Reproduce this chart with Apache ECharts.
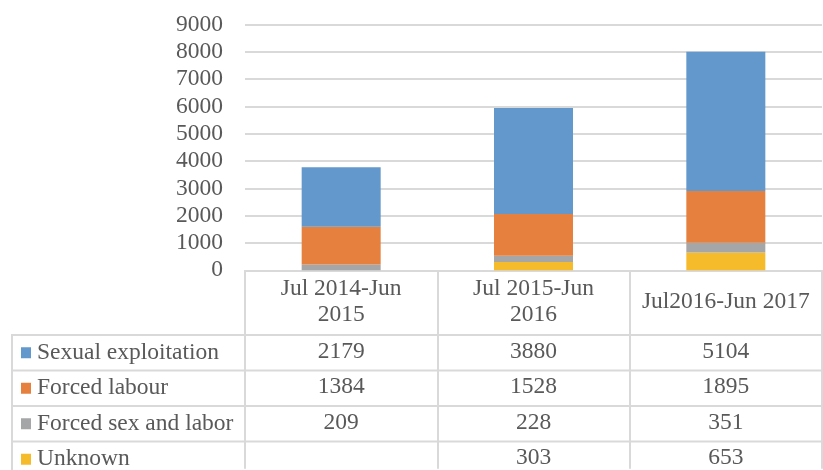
<!DOCTYPE html>
<html>
<head>
<meta charset="utf-8">
<script src="https://cdn.jsdelivr.net/npm/echarts@6/dist/echarts.min.js"></script>
<style>
  html, body { margin: 0; padding: 0; background: #fff; }
  #main { width: 823px; height: 470px; }
</style>
</head>
<body>
<div id="main"></div>
<script>
  // data
  var periods = ['Jul 2014-Jun\n2015', 'Jul 2015-Jun\n2016', 'Jul2016-Jun 2017'];
  var sexualExploitation = [2179, 3880, 5104];
  var forcedLabour = [1384, 1528, 1895];
  var forcedSexLabor = [209, 228, 351];
  var unknown = [null, 303, 653];
  var yTicks = { min: 0, max: 9000, interval: 1000 };

  var font = 'Liberation Serif';
  var textColor = '#595959';
  var lineColor = '#d9d9d9';
  var fontSize = 23.5;

  // table geometry (pixels)
  var plotLeft = 245, plotTop = 24.5, plotBottom = 271.5, tableLeft = 12, tableRight = 822;
  var headerBottom = 335, rowH = 35.5;

  var rows = [
    { name: 'Sexual exploitation', data: sexualExploitation, color: '#6298cb' },
    { name: 'Forced labour', data: forcedLabour, color: '#e6803f' },
    { name: 'Forced sex and labor', data: forcedSexLabor, color: '#a5a6a8' },
    { name: 'Unknown', data: unknown, color: '#f6bb2a' }
  ];

  var myChart = echarts.init(document.getElementById('main'));

  var xAxes = [{
    type: 'category',
    data: periods,
    position: 'bottom',
    axisLine: { show: true, lineStyle: { color: lineColor, width: 2 } },
    axisTick: { show: true, alignWithLabel: false, length: 470 - plotBottom, lineStyle: { color: lineColor, width: 2 } },
    axisLabel: {
      fontFamily: font, fontSize: fontSize, color: textColor,
      verticalAlign: 'middle', margin: (headerBottom - plotBottom) / 2,
      lineHeight: 26, interval: 0
    }
  }];

  // one hidden axis per table row, just to print the values in each column
  rows.forEach(function (r, i) {
    var values = r.data;
    xAxes.push({
      type: 'category',
      data: periods,
      position: 'bottom',
      offset: headerBottom - plotBottom + rowH * i + rowH / 2,
      axisLine: { show: false },
      axisTick: { show: false },
      axisLabel: {
        interval: 0, margin: 0, verticalAlign: 'middle',
        fontFamily: font, fontSize: fontSize, color: textColor,
        formatter: function (v, idx) { return values[idx] == null ? '' : String(values[idx]); }
      }
    });
  });

  // series stacked bottom-up: Unknown first
  var series = rows.slice().reverse().map(function (r) {
    return {
      name: r.name,
      type: 'bar',
      stack: 'total',
      barWidth: 79,
      itemStyle: { color: r.color },
      emphasis: { disabled: true },
      data: r.data
    };
  });

  // row labels of the table = one legend per row
  var legends = rows.map(function (r, i) {
    return {
      left: 21,
      top: headerBottom + rowH * i + rowH / 2 - 12,
      padding: 0,
      itemWidth: 10,
      itemHeight: 11,
      icon: 'rect',
      selectedMode: false,
      data: [r.name],
      textStyle: { fontFamily: font, fontSize: fontSize, color: textColor, lineHeight: 24, padding: [0, 0, 0, 1] }
    };
  });

  // table borders
  var lines = [];
  for (var k = 0; k < 4; k++) {
    var y = headerBottom + rowH * k;
    lines.push({ type: 'line', shape: { x1: tableLeft - 1, y1: y, x2: 823, y2: y }, style: { stroke: lineColor, lineWidth: 2 } });
  }
  lines.push({ type: 'line', shape: { x1: tableLeft, y1: headerBottom, x2: tableLeft, y2: 470 }, style: { stroke: lineColor, lineWidth: 2 } });

  var option = {
    animation: false,
    textStyle: { fontFamily: font },
    grid: { left: plotLeft, right: 823 - tableRight, top: plotTop, height: plotBottom - plotTop, containLabel: false },
    legend: legends,
    xAxis: xAxes,
    yAxis: {
      type: 'value',
      min: yTicks.min, max: yTicks.max, interval: yTicks.interval,
      axisLine: { show: false },
      axisTick: { show: false },
      axisLabel: {
        fontFamily: font, fontSize: fontSize, color: textColor, margin: 22,
        formatter: function (v) { return String(v); }
      },
      splitLine: { lineStyle: { color: lineColor, width: 2 } }
    },
    graphic: lines,
    series: series
  };

  myChart.setOption(option);
</script>
</body>
</html>
